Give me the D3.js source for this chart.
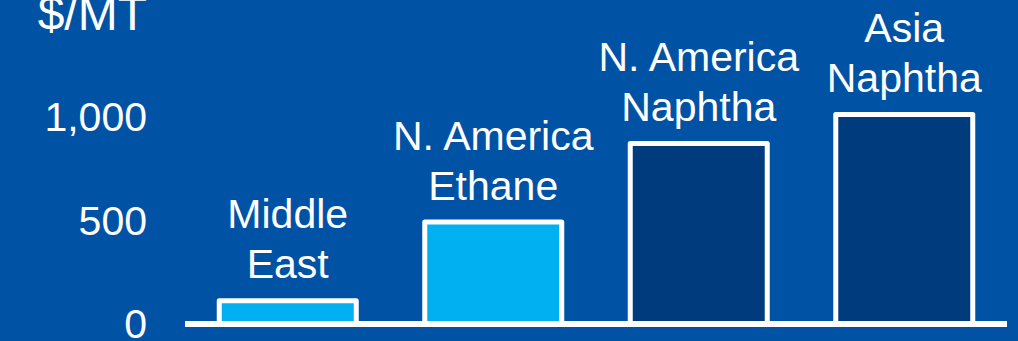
<!DOCTYPE html>
<html>
<head>
<meta charset="utf-8">
<script src="https://cdn.jsdelivr.net/npm/d3@7"></script>
<style>
  html, body { margin: 0; padding: 0; background: #0052A5; overflow: hidden; }
  svg { display: block; }
  text { font-family: "Liberation Sans", Arial, Helvetica, sans-serif; fill: #ffffff; }
</style>
</head>
<body>
<svg id="chart" width="1018" height="341"></svg>
<script>
// Feedstock cost by region, $/MT
const categories = ["Middle East", "N. America Ethane", "N. America Naphtha", "Asia Naphtha"];
const labelLines = [["Middle", "East"], ["N. America", "Ethane"], ["N. America", "Naphtha"], ["Asia", "Naphtha"]];
const values = [110, 490, 870, 1010];
const barColors = ["#00B0F0", "#00B0F0", "#003C7D", "#003C7D"];
const tickValues = [0, 500, 1000];
const unitLabel = "$/MT";

const svg = d3.select("#chart");
const W = 1018, H = 341;

svg.append("rect").attr("width", W).attr("height", H).attr("fill", "#0052A5");

const x = d3.scaleBand()
  .domain(categories)
  .range([185, 1007])
  .paddingInner(1 / 3)
  .paddingOuter(1 / 6);

const y = d3.scaleLinear()
  .domain([0, 1000])
  .range([323.5, 116.5]);

// Y axis tick labels (no axis line)
const yAxis = d3.axisLeft(y)
  .tickValues(tickValues)
  .tickFormat(d3.format(","))
  .tickSize(0)
  .tickPadding(0);

const gy = svg.append("g")
  .attr("transform", "translate(147,0)")
  .call(yAxis);
gy.select(".domain").remove();
gy.selectAll("text")
  .attr("font-size", 41)
  .attr("fill", "#ffffff")
  .attr("font-family", "'Liberation Sans', Arial, sans-serif")
  .attr("dy", "0.35em");

// Unit label
svg.append("text")
  .attr("x", 147)
  .attr("y", 30)
  .attr("text-anchor", "end")
  .attr("font-size", 48)
  .text(unitLabel);

// Bars
svg.append("g").selectAll("rect")
  .data(categories)
  .join("rect")
  .attr("x", d => x(d))
  .attr("width", x.bandwidth())
  .attr("y", (d, i) => y(values[i]))
  .attr("height", (d, i) => y(0) - y(values[i]))
  .attr("fill", (d, i) => barColors[i])
  .attr("stroke", "#ffffff")
  .attr("stroke-width", 5)
  .attr("stroke-linejoin", "round");

// Baseline
svg.append("line")
  .attr("x1", x.range()[0])
  .attr("x2", x.range()[1])
  .attr("y1", y(0) + 0.5)
  .attr("y2", y(0) + 0.5)
  .attr("stroke", "#ffffff")
  .attr("stroke-width", 6);

// Category labels above each bar
const lineHeight = 50;
const labels = svg.append("g").selectAll("text")
  .data(categories)
  .join("text")
  .attr("text-anchor", "middle")
  .attr("font-size", 41)
  .attr("x", d => x(d) + x.bandwidth() / 2);

labels.each(function (d, i) {
  const lines = labelLines[i];
  const lastBase = y(values[i]) - 22.5;
  const t = d3.select(this);
  lines.forEach((ln, j) => {
    t.append("tspan")
      .attr("x", x(d) + x.bandwidth() / 2)
      .attr("y", lastBase - (lines.length - 1 - j) * lineHeight)
      .text(ln);
  });
});
</script>
</body>
</html>
